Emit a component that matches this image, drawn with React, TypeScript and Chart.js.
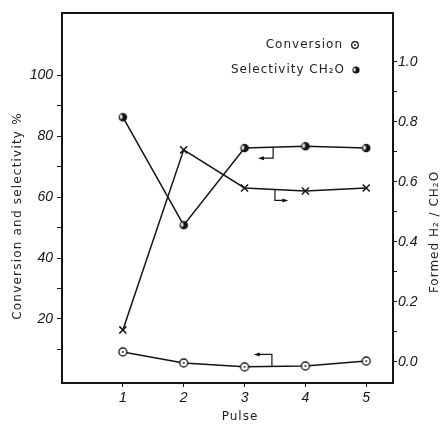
import React, { useEffect, useRef } from 'react';
import { Chart, registerables } from 'chart.js';

Chart.register(...registerables);

// ---- data ----
const pulses = [1, 2, 3, 4, 5];
const conversion = [9.2, 5.6, 4.3, 4.6, 6.2];
const selectivity = [86.2, 50.8, 76.1, 76.7, 76.1];
const h2Ratio = [0.107, 0.707, 0.58, 0.57, 0.58];

const xTickValues = [1, 2, 3, 4, 5];
const leftTickValues = [10, 20, 30, 40, 50, 60, 70, 80, 90, 100];
const leftLabelValues = [20, 40, 60, 80, 100];
const rightTickValues = [0, 0.1, 0.2, 0.3, 0.4, 0.5, 0.6, 0.7, 0.8, 0.9, 1.0];
const rightLabelValues = [0, 0.2, 0.4, 0.6, 0.8, 1.0];

const xTitle = 'Pulse';
const leftTitle = 'Conversion and selectivity %';
const rightTitle = 'Formed H\u2082 / CH\u2082O';
const legendConversion = 'Conversion';
const legendSelectivity = 'Selectivity CH\u2082O';

const INK = '#141414';

function drawOpenCircle(ctx: CanvasRenderingContext2D, x: number, y: number, r: number) {
  ctx.beginPath();
  ctx.arc(x, y, r, 0, Math.PI * 2);
  ctx.fillStyle = '#fff';
  ctx.fill();
  ctx.lineWidth = 1.3;
  ctx.strokeStyle = INK;
  ctx.stroke();
  ctx.beginPath();
  ctx.arc(x, y, 0.9, 0, Math.PI * 2);
  ctx.fillStyle = INK;
  ctx.fill();
}

function drawDarkCircle(ctx: CanvasRenderingContext2D, x: number, y: number, r: number) {
  ctx.beginPath();
  ctx.arc(x, y, r, 0, Math.PI * 2);
  ctx.fillStyle = INK;
  ctx.fill();
  ctx.beginPath();
  ctx.ellipse(x - r * 0.4, y - r * 0.1, r * 0.35, r * 0.55, 0, 0, Math.PI * 2);
  ctx.fillStyle = '#ddd';
  ctx.fill();
}

function makeMarker(kind: 'open' | 'dark'): HTMLCanvasElement {
  const c = document.createElement('canvas');
  c.width = 12;
  c.height = 12;
  const ctx = c.getContext('2d')!;
  if (kind === 'open') drawOpenCircle(ctx, 6, 6, 4);
  else drawDarkCircle(ctx, 6, 6, 4.3);
  return c;
}

function arrowHead(ctx: CanvasRenderingContext2D, x: number, y: number, dir: number) {
  ctx.beginPath();
  ctx.moveTo(x, y);
  ctx.lineTo(x - dir * 6, y - 2);
  ctx.lineTo(x - dir * 6, y + 2);
  ctx.closePath();
  ctx.fill();
}

function interp(xs: number[], ys: number[], x: number) {
  for (let i = 0; i < xs.length - 1; i++) {
    if (x >= xs[i] && x <= xs[i + 1]) {
      const t = (x - xs[i]) / (xs[i + 1] - xs[i]);
      return ys[i] + t * (ys[i + 1] - ys[i]);
    }
  }
  return ys[ys.length - 1];
}

const decorPlugin = {
  id: 'decor',
  afterDraw(chart: any) {
    const { ctx, chartArea: a, scales } = chart;
    const sx = scales.x, sl = scales.y, sr = scales.y1;
    ctx.save();
    // top frame line
    ctx.strokeStyle = INK;
    ctx.lineWidth = 2;
    ctx.beginPath();
    ctx.moveTo(a.left - 1, a.top);
    ctx.lineTo(a.right + 1, a.top);
    ctx.stroke();

    // axis-pointer hooks
    ctx.lineWidth = 1.2;
    ctx.fillStyle = INK;
    // conversion -> left axis
    {
      const x0 = sx.getPixelForValue(3.45);
      const y0 = sl.getPixelForValue(interp(pulses, conversion, 3.45));
      const x1 = sx.getPixelForValue(3.15);
      ctx.beginPath();
      ctx.moveTo(x0, y0);
      ctx.lineTo(x0, y0 - 12);
      ctx.lineTo(x1 + 4, y0 - 12);
      ctx.stroke();
      arrowHead(ctx, x1, y0 - 12, -1);
    }
    // selectivity -> left axis
    {
      const x0 = sx.getPixelForValue(3.47);
      const y0 = sl.getPixelForValue(interp(pulses, selectivity, 3.47));
      const x1 = sx.getPixelForValue(3.22);
      ctx.beginPath();
      ctx.moveTo(x0, y0);
      ctx.lineTo(x0, y0 + 11);
      ctx.lineTo(x1 + 4, y0 + 11);
      ctx.stroke();
      arrowHead(ctx, x1, y0 + 11, -1);
    }
    // H2/CH2O -> right axis
    {
      const x0 = sx.getPixelForValue(3.5);
      const y0 = sr.getPixelForValue(interp(pulses, h2Ratio, 3.5));
      const x1 = sx.getPixelForValue(3.72);
      ctx.beginPath();
      ctx.moveTo(x0, y0);
      ctx.lineTo(x0, y0 + 11);
      ctx.lineTo(x1 - 4, y0 + 11);
      ctx.stroke();
      arrowHead(ctx, x1, y0 + 11, 1);
    }

    // titles
    ctx.fillStyle = '#222';
    ctx.font = '12px "DejaVu Sans"';
    (ctx as any).letterSpacing = '1px';
    ctx.textAlign = 'center';
    ctx.textBaseline = 'middle';
    ctx.fillText(xTitle, a.left + 178, 417);

    ctx.save();
    ctx.translate(18, 216);
    ctx.rotate(-Math.PI / 2);
    (ctx as any).letterSpacing = '1.2px';
    ctx.fillText(leftTitle, 0, 0);
    ctx.restore();

    ctx.save();
    ctx.translate(435, 232);
    ctx.rotate(-Math.PI / 2);
    ctx.fillText(rightTitle, 0, 0);
    ctx.restore();

    // legend
    ctx.textAlign = 'right';
    ctx.fillText(legendConversion, 343, 45);
    ctx.fillText(legendSelectivity, 345, 70);
    drawOpenCircle(ctx, 355, 45, 3.3);
    drawDarkCircle(ctx, 356, 70, 3.6);
    ctx.restore();
  },
};

export default function App() {
  const ref = useRef<HTMLCanvasElement | null>(null);

  useEffect(() => {
    if (!ref.current) return;
    const openImg = makeMarker('open');
    const darkImg = makeMarker('dark');
    const tickFont = { family: '"Liberation Sans", Arial, sans-serif', size: 14, style: 'italic' as const };

    const chart = new Chart(ref.current, {
      type: 'line',
      data: {
        datasets: [
          {
            label: 'Conversion',
            data: pulses.map((x, i) => ({ x, y: conversion[i] })),
            yAxisID: 'y',
            borderColor: INK,
            borderWidth: 1.5,
            pointStyle: openImg as any,
            pointRadius: 5,
          },
          {
            label: 'Selectivity',
            data: pulses.map((x, i) => ({ x, y: selectivity[i] })),
            yAxisID: 'y',
            borderColor: INK,
            borderWidth: 1.5,
            pointStyle: darkImg as any,
            pointRadius: 5,
          },
          {
            label: 'H2/CH2O',
            data: pulses.map((x, i) => ({ x, y: h2Ratio[i] })),
            yAxisID: 'y1',
            borderColor: INK,
            borderWidth: 1.5,
            pointStyle: 'crossRot',
            pointRadius: 5,
            pointBorderWidth: 1.5,
            pointBorderColor: INK,
          },
        ],
      },
      options: {
        animation: false,
        responsive: false,
        layout: { padding: { top: 13, left: 0, right: 0, bottom: 0 } },
        plugins: { legend: { display: false }, tooltip: { enabled: false } },
        elements: { line: { tension: 0 } },
        scales: {
          x: {
            type: 'linear',
            min: 0,
            max: 5.44,
            afterBuildTicks: (s: any) => {
              s.ticks = xTickValues.map((v) => ({ value: v }));
            },
            afterFit: (s: any) => {
              s.height = 41;
            },
            grid: { drawOnChartArea: false, drawTicks: true, tickLength: 4, color: INK, lineWidth: 1 },
            border: { display: true, color: INK, width: 2 },
            ticks: { font: tickFont, color: INK, padding: 3, maxRotation: 0, autoSkip: false, callback: (v: any) => String(v) },
          },
          y: {
            type: 'linear',
            position: 'left',
            min: -1,
            max: 120.4,
            afterBuildTicks: (s: any) => {
              s.ticks = leftTickValues.map((v) => ({ value: v }));
            },
            afterFit: (s: any) => {
              s.width = 62;
            },
            grid: { drawOnChartArea: false, drawTicks: true, tickLength: 5, color: INK, lineWidth: 1 },
            border: { display: true, color: INK, width: 2 },
            ticks: {
              font: tickFont,
              color: INK,
              padding: 4,
              autoSkip: false,
              callback: (v: any) => (leftLabelValues.includes(Number(v)) ? String(v) : ''),
            },
          },
          y1: {
            type: 'linear',
            position: 'right',
            min: -0.07,
            max: 1.163,
            afterBuildTicks: (s: any) => {
              s.ticks = rightTickValues.map((v) => ({ value: v }));
            },
            afterFit: (s: any) => {
              s.width = 50;
            },
            grid: { drawOnChartArea: false, drawTicks: true, tickLength: 4, color: INK, lineWidth: 1 },
            border: { display: true, color: INK, width: 2 },
            ticks: {
              font: tickFont,
              color: INK,
              padding: 1,
              autoSkip: false,
              callback: (v: any) =>
                rightLabelValues.some((r) => Math.abs(r - Number(v)) < 1e-6) ? Number(v).toFixed(1) : '',
            },
          },
        },
      },
      plugins: [decorPlugin as any],
    });
    return () => chart.destroy();
  }, []);

  return (
    <div style={{ position: 'fixed', left: 0, top: 0, width: 443, height: 424, background: '#fff' }}>
      <canvas ref={ref} width={443} height={424} style={{ display: 'block' }} />
    </div>
  );
}
